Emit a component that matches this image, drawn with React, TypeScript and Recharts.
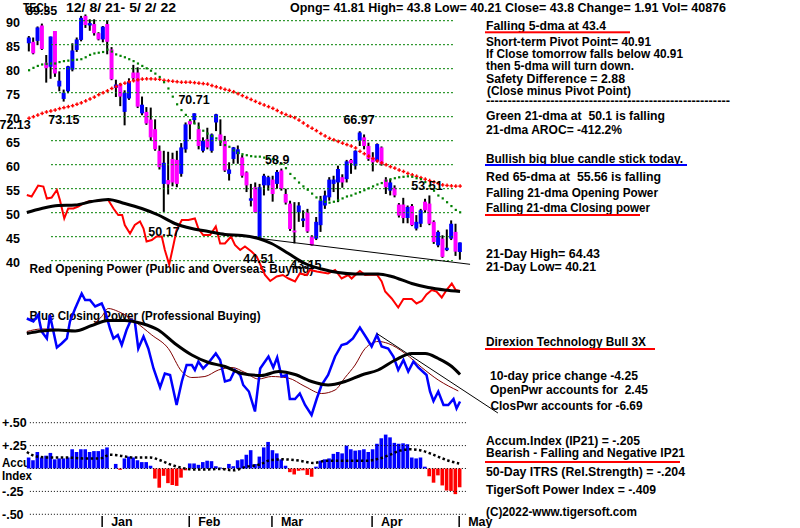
import React from "react";
import {
  ComposedChart,
  Bar,
  Line,
  XAxis,
  YAxis,
  ReferenceLine,
  ReferenceDot,
  Cell,
} from "recharts";

const FONT = "'Liberation Sans', Arial, sans-serif";
const FS = 12.5;

// daily candles, 12/8/21 .. 5/2/22 (100 sessions)
const OPEN = [
  85.3, 85.6, 85.8, 89.0, 81.25, 80.4, 87.85, 76.3, 73.7, 75.3,
  79.8, 83.9, 86.0, 91.0, 89.0, 89.3, 87.4, 86.1, 89.3, 84.0,
  76.0, 76.6, 71.0, 73.8, 79.2, 79.2, 70.7, 71.0, 69.4, 67.4,
  62.9, 56.0, 56.8, 61.2, 61.0, 58.1, 63.2, 69.1, 69.3, 67.4,
  62.9, 65.3, 62.9, 68.8, 66.3, 65.0, 58.1, 61.2, 62.2, 61.5,
  58.4, 52.5, 55.3, 44.6, 55.7, 55.7, 56.9, 56.0, 58.8, 53.9,
  51.9, 46.3, 50.1, 48.3, 50.1, 45.1, 44.6, 47.4, 51.5, 53.2,
  56.0, 56.3, 57.4, 57.0, 61.0, 59.8, 65.0, 65.7, 63.9, 61.5,
  60.8, 63.6, 56.9, 54.6, 55.2, 51.7, 51.7, 48.9, 51.4, 46.7,
  47.7, 52.3, 51.9, 48.1, 43.2, 44.6, 42.2, 44.6, 46.0, 41.81,
];
const HIGH = [
  86.8, 86.5, 88.8, 89.4, 82.85, 86.7, 87.85, 79.45, 75.65, 80.6,
  85.3, 86.5, 91.0, 91.3, 90.3, 90.3, 87.6, 88.9, 90.1, 84.5,
  77.7, 77.0, 75.5, 78.0, 80.8, 80.3, 74.2, 72.0, 71.9, 69.45,
  64.0, 62.9, 62.7, 62.5, 62.9, 64.5, 68.8, 69.3, 70.71, 68.8,
  65.7, 67.7, 66.5, 70.6, 69.45, 66.0, 60.5, 63.7, 64.0, 62.0,
  58.6, 56.0, 56.3, 56.0, 58.1, 57.7, 57.7, 58.9, 59.2, 55.0,
  52.5, 52.2, 52.2, 50.5, 50.8, 45.3, 49.1, 53.5, 54.6, 57.4,
  57.7, 59.8, 58.0, 61.0, 61.2, 63.0, 66.97, 66.3, 64.6, 62.6,
  64.43, 63.8, 57.4, 57.0, 55.7, 52.0, 53.1, 51.5, 51.8, 49.5,
  50.8, 52.9, 53.6, 48.4, 46.3, 45.3, 46.5, 48.4, 47.7, 43.8,
];
const LOW = [
  83.6, 83.0, 84.9, 83.9, 77.1, 77.9, 78.3, 75.3, 73.15, 74.9,
  79.45, 83.5, 85.7, 88.5, 87.9, 86.9, 85.9, 85.5, 83.0, 77.6,
  74.1, 72.2, 68.2, 73.5, 77.6, 71.8, 70.3, 68.3, 65.0, 62.9,
  59.0, 50.17, 53.8, 55.5, 55.3, 57.5, 62.5, 65.3, 68.5, 63.2,
  62.55, 63.2, 62.5, 67.0, 63.9, 58.5, 56.7, 60.2, 60.2, 57.3,
  54.3, 51.3, 50.0, 44.51, 53.6, 54.6, 52.3, 55.0, 54.6, 51.7,
  46.2, 43.6, 48.1, 47.0, 45.8, 43.15, 44.3, 46.0, 50.8, 52.5,
  54.3, 52.2, 55.2, 56.3, 58.1, 59.0, 63.9, 63.2, 60.8, 58.6,
  60.5, 59.8, 53.9, 53.6, 53.2, 49.0, 47.8, 47.8, 47.2, 46.3,
  47.0, 50.0, 47.4, 43.5, 42.8, 40.6, 42.0, 44.3, 41.0, 40.21,
];
const CLOSE = [
  86.5, 83.2, 88.6, 84.1, 80.1, 86.7, 79.0, 77.5, 75.0, 80.5,
  83.8, 86.1, 90.6, 89.1, 89.5, 87.4, 86.1, 88.75, 85.6, 77.8,
  76.7, 74.2, 75.0, 77.3, 78.0, 72.1, 72.5, 68.6, 65.7, 63.2,
  59.5, 60.4, 55.9, 56.3, 56.0, 63.6, 68.4, 68.4, 70.7, 63.9,
  65.0, 63.6, 66.3, 70.5, 65.0, 58.8, 59.0, 63.6, 63.2, 57.7,
  55.7, 53.0, 50.1, 55.3, 57.7, 57.4, 53.9, 58.5, 55.0, 52.1,
  46.6, 45.9, 51.5, 48.8, 46.1, 43.2, 48.1, 52.55, 53.6, 56.9,
  56.9, 59.1, 56.3, 60.7, 60.3, 62.9, 66.7, 63.9, 61.2, 60.5,
  64.3, 60.1, 55.3, 56.3, 53.6, 49.4, 48.9, 51.2, 47.4, 48.1,
  50.5, 50.5, 47.7, 43.9, 46.0, 40.8, 42.7, 47.7, 41.89, 43.8,
];

// green 21-dma and red 65-dma (one dot per session)
const MA21 = [
  79.7, 80.2, 80.6, 80.9, 81.0, 81.1, 81.1, 81.4, 81.6, 81.7,
  81.8, 81.9, 82.0, 82.4, 82.9, 83.2, 83.35, 83.5, 84.0, 83.6,
  83.0, 82.7, 82.4, 82.0, 81.6, 81.1, 80.6, 80.1, 79.6, 79.0,
  78.3, 77.2, 75.9, 74.2, 72.6, 71.4, 70.4, 69.3, 68.6, 67.8,
  67.1, 66.5, 66.0, 65.5, 64.8, 64.1, 63.75, 63.0, 62.5, 62.2,
  62.0, 61.8, 61.7, 61.7, 61.5, 61.4, 61.2, 60.8, 60.2, 59.3,
  58.1, 57.2, 56.3, 55.5, 54.8, 54.0, 53.2, 52.7, 52.3, 52.1,
  52.3, 52.6, 53.0, 53.4, 53.6, 54.0, 54.3, 54.7, 55.1, 55.5,
  55.9, 56.2, 56.7, 57.0, 57.2, 57.4, 57.5, 57.6, 57.5, 57.2,
  57.0, 56.4, 55.6, 54.6, 53.6, 53.0, 52.2, 51.4, 50.6, 50.1,
];
const MA65 = [
  69.7, 70.0, 70.35, 70.7, 71.0, 71.2, 71.4, 71.7, 71.9, 72.1,
  72.3, 72.6, 72.9, 73.3, 73.7, 74.1, 74.6, 75.0, 75.4, 75.9,
  76.3, 76.7, 77.0, 77.3, 77.5, 77.7, 77.85, 77.9, 77.9, 77.85,
  77.8, 77.6, 77.5, 77.4, 77.3, 77.2, 77.2, 77.2, 77.1, 77.0,
  76.9, 76.8, 76.5, 76.25, 76.0, 75.7, 75.5, 75.2, 74.8, 74.4,
  74.0, 73.6, 73.2, 72.8, 72.45, 72.1, 71.75, 71.3, 70.8, 70.45,
  70.1, 69.8, 69.3, 68.7, 68.1, 67.6, 67.1, 66.5, 66.0, 65.5,
  65.2, 64.85, 64.5, 64.2, 63.9, 63.5, 62.8, 62.3, 61.8, 61.3,
  60.8, 60.4, 60.0, 59.6, 59.3, 58.9, 58.6, 58.2, 57.9, 57.6,
  57.3, 57.0, 56.7, 56.4, 56.1, 55.8, 55.7, 55.6, 55.55, 55.56,
];

// accumulation index (IP21)
const ACCUM = [
  0.12, 0.09, 0.18, 0.12, 0.14, 0.17, 0.1, 0.11, 0.11, 0.12,
  0.21, 0.18, 0.21, 0.21, 0.18, 0.19, 0.19, 0.21, 0.23, 0,
  0.05, -0.015, 0.11, 0.13, 0.12, 0.09, 0.07, 0.07, 0.03, -0.11,
  -0.21, -0.08, -0.16, -0.18, -0.19, -0.1, -0.02, 0.055, 0.055, 0.04,
  0.07, 0.085, 0.08, 0.025, 0.01, -0.01, 0.05, 0.025, 0.09, 0.1,
  0.15, 0.2, 0.05, 0.13, 0.23, 0.29, 0.2, 0.165, 0.1, 0.03,
  -0.04, -0.065, -0.025, -0.02, -0.07, -0.09, 0.02, 0.085, 0.1, 0.11,
  0.16, 0.18, 0.165, 0.25, 0.21, 0.195, 0.2, 0.21, 0.18, 0.21,
  0.27, 0.33, 0.37, 0.34, 0.28, 0.27, 0.275, 0.265, 0.12, 0.11,
  0.12, 0.02, -0.085, -0.155, -0.075, -0.185, -0.24, -0.245, -0.28, -0.205,
];

// [session index, value] readings of the power lines
const OP_LINE = [
  [-0.5, 13.0], [0.6, 12.7], [2.1, 14.9], [3.3, 14.7], [4.1, 12.3], [5.2, 12.5], [6.4, 14.0],
  [7.1, 12.0], [8.1, 8.3], [9.0, 10.3], [10.2, 10.3], [11.3, 10.7], [12.5, 11.3], [14.0, 11.8],
  [15.2, 11.8], [17.1, 12.0], [18.2, 12.0], [19.4, 10.3], [20.5, 9.0], [21.4, 9.0], [22.0, 7.0],
  [23.2, 5.3], [24.3, 7.0], [25.5, 7.7], [26.3, 6.3], [27.0, 3.7], [28.2, 4.0], [29.3, 4.7],
  [30.5, 4.7], [31.2, 2.0], [32.2, -0.9], [33.1, 2.7], [33.9, 6.0], [35.1, 8.0], [36.6, 8.0],
  [38.1, 8.3], [38.9, 6.3], [40.0, 5.0], [41.6, 5.0], [42.9, 6.7], [43.9, 3.3], [45.0, 3.3],
  [46.4, 4.7], [47.3, 3.0], [48.5, 2.0], [49.6, 2.7], [51.1, 1.7], [52.3, 0.7], [54.2, -3.0],
  [55.4, -4.2], [56.9, -3.3], [58.3, -3.0], [59.6, -3.7], [61.1, -4.3], [62.2, -2.7], [63.8, -3.0],
  [64.5, -2.0], [66.1, -2.3], [68.7, -2.7], [70.3, -2.0], [71.8, -3.7], [73.3, -3.0], [74.1, -3.7],
  [75.3, -2.7], [76.0, -2.2], [77.2, -3.0], [79.9, -2.9], [81.0, -4.3], [81.8, -6.3], [83.3, -7.7],
  [84.8, -9.5], [86.0, -7.8], [87.9, -7.8], [89.0, -8.7], [90.2, -8.2], [91.3, -6.9], [92.5, -6.0],
  [93.6, -6.3], [94.8, -7.5], [95.9, -6.0], [97.1, -4.7], [98.0, -6.0], [99.0, -6.2],
];
const OP_MA = [
  [-0.5, 9.5], [2.9, 10.3], [6.7, 10.9], [10.6, 11.0], [14.4, 11.7], [18.2, 12.1], [22.0, 11.3],
  [25.9, 10.3], [29.7, 9.0], [33.5, 7.3], [37.4, 6.3], [41.2, 5.7], [45.0, 5.1], [48.9, 4.9],
  [52.7, 4.3], [55.7, 3.3], [59.6, 1.3], [63.4, -0.7], [67.2, -1.8], [71.0, -2.5], [74.9, -2.8],
  [80.2, -2.8], [83.3, -3.3], [87.9, -4.7], [91.7, -5.5], [95.5, -6.0], [99.0, -6.3],
];
const CP_LINE = [
  [-0.5, 8.3], [1.0, 7.7], [2.1, 9.0], [2.9, 5.7], [4.1, 4.3], [4.8, 9.0], [6.4, 2.5], [7.5, 3.3],
  [8.7, 4.3], [9.4, 7.7], [10.6, 10.3], [12.1, 13.3], [12.9, 12.0], [14.0, 12.0], [15.2, 10.7],
  [16.7, 11.3], [17.5, 9.7], [18.6, 6.3], [19.4, 4.3], [20.4, 5.0], [21.3, 3.0], [22.4, 6.0],
  [23.4, 8.0], [24.3, 7.7], [25.1, 2.3], [26.3, 4.7], [27.4, 2.3], [28.6, -1.7], [30.1, -5.5],
  [31.2, -2.7], [32.4, -3.0], [33.9, -9.0], [35.1, -4.3], [36.2, -1.0], [37.4, -1.0], [38.1, -2.0],
  [38.9, -0.3], [40.0, -1.7], [40.8, -1.0], [42.0, 0.3], [42.9, 1.3], [43.9, 0.0], [45.0, -4.3],
  [46.2, -4.0], [47.3, -2.0], [48.5, -3.0], [49.2, -5.0], [50.5, -6.3], [51.9, -10.3], [53.1, -1.7],
  [55.0, 0.7], [56.1, -1.5], [57.0, 0.5], [58.0, -3.3], [59.2, -3.0], [59.9, -7.8], [61.1, -7.8],
  [62.2, -6.7], [63.4, -9.0], [64.9, -11.0], [66.1, -7.7], [67.2, -5.0], [68.7, -3.0], [70.3, 0.7],
  [71.8, 3.0], [73.0, 3.3], [74.4, 4.3], [76.0, 6.5], [77.6, 4.3], [78.7, 2.7], [79.9, 5.0],
  [81.0, 2.7], [82.5, 2.3], [83.7, 0.7], [84.8, -2.0], [86.0, 0.0], [87.1, -2.3], [88.3, -0.3],
  [89.4, -1.5], [91.3, -3.0], [92.1, -6.3], [92.9, -8.2], [94.0, -6.3], [95.2, -9.0], [96.3, -9.0],
  [97.5, -7.8], [98.2, -9.7], [99.0, -8.3],
];
const CP_MA = [
  [-0.5, 5.3], [2.9, 5.8], [6.7, 6.0], [10.6, 5.8], [14.4, 6.9], [18.2, 7.9], [22.0, 7.9],
  [25.9, 7.3], [29.7, 6.0], [33.5, 3.3], [37.4, 1.0], [41.2, -0.5], [45.0, -1.3], [48.9, -2.7],
  [53.4, -3.1], [57.3, -2.3], [61.1, -2.9], [64.9, -4.3], [68.7, -5.0], [72.6, -4.3], [76.4, -3.0],
  [80.2, -2.0], [84.1, 0.0], [87.9, 1.3], [91.0, 1.3], [94.0, 0.3], [97.1, -1.3], [99.0, -2.9],
];
const CP_MA2 = [
  [-0.5, 5.7], [2.9, 6.2], [5.2, 6.2], [9.0, 5.8], [12.9, 6.3], [16.7, 8.7], [18.2, 10.3],
  [20.5, 9.7], [24.3, 7.7], [28.2, 5.0], [32.0, 2.3], [35.1, -2.3], [37.4, -3.5], [40.4, -3.3],
  [43.5, -2.0], [46.6, -1.5], [49.6, -2.5], [52.7, -3.8], [55.7, -3.3], [59.5, -3.6], [63.4, -5.3],
  [67.2, -6.7], [70.3, -6.0], [72.6, -3.5], [74.9, -1.0], [77.2, 2.3], [80.2, 3.7], [82.5, 3.3],
  [86.4, 1.3], [90.2, -1.5], [94.0, -4.0], [98.6, -6.2],
];
const ACC_MA = [
  [-0.5, 0.18], [1.8, 0.13], [4.8, 0.12], [8.7, 0.12], [12.5, 0.11], [16.3, 0.11], [18.6, 0.15],
  [20.9, 0.14], [24.0, 0.12], [27.8, 0.12], [30.1, 0.09], [32.4, 0.045], [35.1, 0.007],
  [37.7, -0.01], [40.8, -0.01], [43.9, -0.005], [46.9, -0.02], [50.0, 0.02], [53.1, 0.045],
  [55.3, 0.09], [58.4, 0.1], [62.2, 0.085], [65.3, 0.06], [68.4, 0.085], [71.4, 0.085],
  [74.5, 0.085], [77.6, 0.085], [80.6, 0.11], [82.9, 0.15], [85.2, 0.195], [87.5, 0.21],
  [89.8, 0.2], [92.1, 0.165], [94.4, 0.12], [96.7, 0.08], [98.8, 0.055],
];

// thin trend lines [session, value]
const PRICE_TREND = [[52.7, 44.67], [101.3, 39.25]];
const CP_TREND = [[79.9, 5.3], [107.7, -10.6]];

const PRICE_TICKS = [90, 85, 80, 75, 70, 65, 60, 55, 50, 45, 40];
const ACC_TICKS = [0.5, 0.25, -0.25, -0.5];
const ACC_GRID = [0.5, 0.25, 0, -0.25, -0.5];
const MONTHS = ["Jan", "Feb", "Mar", "Apr", "May"];
const MONTH_START = [17, 37, 56, 79, 99];
const MONTH_TICKS = MONTH_START.map((m) => m - 0.2);

const NOTES = [
  { i: 2.9, p: 92.2, t: "89.35" },
  { i: 8.0, p: 69.3, t: "73.15" },
  { i: -3.2, p: 68.3, t: "72.13" },
  { i: 37.9, p: 73.5, t: "70.71" },
  { i: 75.8, p: 69.3, t: "66.97" },
  { i: 57.0, p: 61.0, t: "58.9" },
  { i: 31.0, p: 46.0, t: "50.17" },
  { i: 52.8, p: 40.35, t: "44.51" },
  { i: 63.6, p: 39.1, t: "43.15" },
  { i: 91.4, p: 55.7, t: "53.51" },
];

const X_DOMAIN = [-6.6605, 177.079];
const P_DOMAIN = [-12.979, 94.3125];
const A_DOMAIN = [-0.5077, 5.1146];
const OP_DOMAIN = [-51, 52];
const CP_DOMAIN = [-31, 72];

const BLUE = "#0000ff";
const MAGENTA = "#ff00ff";
const RED = "#ff0000";
const GREEN = "#008000";

const TEXTS = [
  { x: 23, y: 11.5, t: "TECL", w: 27 },
  { x: 66, y: 11.5, t: "12/ 8/ 21- 5/ 2/ 22", w: 110 },
  { x: 290, y: 11.5, t: "Opng= 41.81 High= 43.8 Low= 40.21 Close= 43.8 Change= 1.91 Vol= 40876", w: 436 },
  { x: 486, y: 29.5, t: "Falling 5-dma at 43.4", w: 120 },
  { x: 486, y: 45.5, t: "Short-term Pivot Point= 40.91", w: 165 },
  { x: 486, y: 57.5, t: "If Close tomorrow falls below 40.91", w: 197 },
  { x: 486, y: 69.5, t: "then 5-dma will turn down.", w: 148 },
  { x: 486, y: 82.5, t: "Safety Difference = 2.88", w: 139 },
  { x: 487, y: 94.5, t: "(Close minus Pivot Point)", w: 144 },
  { x: 486, y: 105, t: "-".repeat(57), w: 244 },
  { x: 486, y: 119.5, t: "Green 21-dma at  50.1 is falling", w: 179 },
  { x: 486, y: 133.5, t: "21-dma AROC= -412.2%", w: 136 },
  { x: 486, y: 162.5, t: "Bullish big blue candle stick today.", w: 197 },
  { x: 486, y: 180.5, t: "Red 65-dma at  55.56 is falling", w: 175 },
  { x: 486, y: 196.5, t: "Falling 21-dma Opening Power", w: 172 },
  { x: 486, y: 211.5, t: "Falling 21-dma Closing power", w: 164 },
  { x: 486, y: 257.5, t: "21-Day High= 64.43", w: 114 },
  { x: 486, y: 270.5, t: "21-Day Low= 40.21", w: 110 },
  { x: 486, y: 346, t: "Direxion Technology Bull 3X", w: 160 },
  { x: 490, y: 379.5, t: "10-day price change -4.25", w: 148 },
  { x: 490, y: 393.5, t: "OpenPwr accounts for  2.45", w: 158 },
  { x: 490.5, y: 410, t: "ClosPwr accounts for -6.69", w: 152 },
  { x: 486, y: 445, t: "Accum.Index (IP21) = -.205", w: 154 },
  { x: 486, y: 457, t: "Bearish - Falling and Negative IP21", w: 199 },
  { x: 486, y: 476, t: "50-Day ITRS (Rel.Strength) = -.204", w: 199 },
  { x: 486, y: 494, t: "TigerSoft Power Index = -.409", w: 170 },
  { x: 486, y: 515.5, t: "(C)2022-www.tigersoft.com", w: 151 },
  { x: 29.5, y: 272.5, t: "Red Opening Power (Public and Overseas Buying)", w: 284 },
  { x: 29.5, y: 319.5, t: "Blue Closing Power (Professional Buying)", w: 231 },
  { x: 2, y: 467, t: "Accu", w: 28 },
  { x: 2, y: 479.5, t: "Index", w: 30 },
];

const UNDERLINES = [
  { x1: 485, x2: 630, y: 32.3, c: RED },
  { x1: 485, x2: 687, y: 165, c: BLUE },
  { x1: 485, x2: 640, y: 215, c: RED },
  { x1: 485, x2: 655, y: 349, c: RED },
  { x1: 485, x2: 680, y: 462, c: RED },
];

const pts = (arr: number[][]) => arr.map(([i, v]) => ({ i, v }));

function Candle(props: any) {
  const { x, y, width, height, payload } = props;
  const top = Math.min(y, y + height);
  const span = Math.abs(height);
  const { o, h, l, c } = payload;
  const k = span / (h - l || 1);
  const yo = top + (h - o) * k;
  const yc = top + (h - c) * k;
  const cx = x + width / 2;
  const up = c >= o;
  return (
    <g>
      <rect x={cx - 1} y={top} width={2} height={Math.max(span, 1)} fill="#000" />
      <rect
        x={cx - 2}
        y={Math.min(yo, yc)}
        width={4}
        height={Math.max(Math.abs(yc - yo), 1.5)}
        fill={up ? BLUE : MAGENTA}
      />
    </g>
  );
}

function GreenDot(props: any) {
  const { cx, cy, index } = props;
  if (cx == null || cy == null) return <g key={`g${index}`} />;
  return <rect key={`g${index}`} x={cx - 1} y={cy - 1} width={2.2} height={2.2} fill={GREEN} />;
}

function RedCross(props: any) {
  const { cx, cy, index } = props;
  if (cx == null || cy == null) return <g key={`r${index}`} />;
  return (
    <g key={`r${index}`}>
      <rect x={cx - 1.8} y={cy - 0.6} width={3.6} height={1.4} fill={RED} />
      <rect x={cx - 0.6} y={cy - 1.8} width={1.4} height={3.6} fill={RED} />
    </g>
  );
}

function PriceTick(props: any) {
  const { y, payload } = props;
  return (
    <text x={6} y={y + 6} fontFamily={FONT} fontSize={FS} fontWeight={700} fill="#000">
      {payload.value}
    </text>
  );
}

function AccTick(props: any) {
  const { y, payload } = props;
  const v = payload.value as number;
  const s = (v > 0 ? "+" : "-") + Math.abs(v).toFixed(2).slice(1);
  return (
    <text x={2} y={y + 4.5} fontFamily={FONT} fontSize={FS} fontWeight={700} fill="#000">
      {s}
    </text>
  );
}

function MonthTick(props: any) {
  const { x, payload } = props;
  const k = MONTH_TICKS.indexOf(payload.value);
  return (
    <g>
      <rect x={x - 0.75} y={516} width={1.5} height={11} fill="#000" />
      <text x={x + 9} y={525.5} fontFamily={FONT} fontSize={FS} fontWeight={700} fill="#000">
        {MONTHS[k]}
      </text>
    </g>
  );
}

export default function App() {
  const rows = OPEN.map((o, i) => ({
    i,
    o,
    h: HIGH[i],
    l: LOW[i],
    c: CLOSE[i],
    ma21: MA21[i],
    ma65: MA65[i],
    acc: ACCUM[i],
  }));

  return (
    <div
      style={{
        position: "fixed",
        left: 0,
        top: 0,
        width: 800,
        height: 528,
        background: "#fff",
        overflow: "hidden",
      }}
    >
      <svg width={800} height={528} style={{ position: "absolute", left: 0, top: 0 }}>
        {TEXTS.map((d, k) => (
          <text
            key={k}
            x={d.x}
            y={d.y}
            textLength={d.w}
            lengthAdjust="spacingAndGlyphs"
            fontFamily={FONT}
            fontSize={FS}
            fontWeight={700}
            fill="#000"
            style={{ whiteSpace: "pre" }}
          >
            {d.t}
          </text>
        ))}
        {UNDERLINES.map((u, k) => (
          <rect key={k} x={u.x1} y={u.y - 1} width={u.x2 - u.x1} height={2} fill={u.c} />
        ))}
      </svg>
      <div style={{ position: "absolute", left: 0, top: 0 }}>
        <ComposedChart
          width={800}
          height={528}
          data={rows}
          margin={{ top: 0, right: 0, bottom: 0, left: 0 }}
        >
          <XAxis
            xAxisId="m"
            type="number"
            dataKey="i"
            domain={X_DOMAIN}
            allowDataOverflow
            height={13}
            axisLine={false}
            tickLine={false}
            ticks={MONTH_TICKS}
            interval={0}
            tick={<MonthTick />}
          />
          <XAxis xAxisId="c" type="number" dataKey="i" domain={X_DOMAIN} allowDataOverflow hide />
          <XAxis xAxisId="h" type="number" dataKey="i" domain={X_DOMAIN} allowDataOverflow hide />
          <YAxis
            yAxisId="p"
            type="number"
            domain={P_DOMAIN}
            allowDataOverflow
            mirror
            axisLine={false}
            tickLine={false}
            ticks={PRICE_TICKS}
            interval={0}
            tick={<PriceTick />}
          />
          <YAxis
            yAxisId="a"
            type="number"
            domain={A_DOMAIN}
            allowDataOverflow
            mirror
            axisLine={false}
            tickLine={false}
            ticks={ACC_TICKS}
            interval={0}
            tick={<AccTick />}
          />
          <YAxis yAxisId="op" type="number" domain={OP_DOMAIN} allowDataOverflow hide />
          <YAxis yAxisId="cp" type="number" domain={CP_DOMAIN} allowDataOverflow hide />

          {PRICE_TICKS.map((p) => (
            <ReferenceLine
              key={`pg${p}`}
              xAxisId="m"
              yAxisId="p"
              segment={[{ x: 5.05, y: p }, { x: 97.4, y: p }]}
              stroke={GREEN}
              strokeDasharray="2 2"
            />
          ))}
          {ACC_GRID.map((a) => (
            <ReferenceLine
              key={`ag${a}`}
              xAxisId="m"
              yAxisId="a"
              segment={[{ x: 0.2, y: a }, { x: 100.8, y: a }]}
              stroke="#000"
              strokeDasharray="1 2"
            />
          ))}

          <Bar
            xAxisId="h"
            yAxisId="a"
            dataKey="acc"
            barSize={3.6}
            isAnimationActive={false}
          >
            {rows.map((r) => (
              <Cell key={r.i} fill={r.acc >= 0 ? BLUE : RED} />
            ))}
          </Bar>
          <Line
            xAxisId="m"
            yAxisId="a"
            data={pts(ACC_MA)}
            dataKey="v"
            type="monotone"
            stroke="#000"
            strokeWidth={2.5}
            strokeDasharray="2.5 2.5"
            dot={false}
            activeDot={false}
            isAnimationActive={false}
          />

          <Line
            xAxisId="m"
            yAxisId="op"
            data={pts(OP_LINE)}
            dataKey="v"
            type="linear"
            stroke={RED}
            strokeWidth={2}
            dot={false}
            activeDot={false}
            isAnimationActive={false}
          />
          <Line
            xAxisId="m"
            yAxisId="op"
            data={pts(OP_MA)}
            dataKey="v"
            type="monotone"
            stroke="#000"
            strokeWidth={3}
            dot={false}
            activeDot={false}
            isAnimationActive={false}
          />
          <Line
            xAxisId="m"
            yAxisId="cp"
            data={pts(CP_MA2)}
            dataKey="v"
            type="monotone"
            stroke="#800000"
            strokeWidth={1}
            dot={false}
            activeDot={false}
            isAnimationActive={false}
          />
          <Line
            xAxisId="m"
            yAxisId="cp"
            data={pts(CP_LINE)}
            dataKey="v"
            type="linear"
            stroke={BLUE}
            strokeWidth={2.5}
            dot={false}
            activeDot={false}
            isAnimationActive={false}
          />
          <Line
            xAxisId="m"
            yAxisId="cp"
            data={pts(CP_MA)}
            dataKey="v"
            type="monotone"
            stroke="#000"
            strokeWidth={3}
            dot={false}
            activeDot={false}
            isAnimationActive={false}
          />
          <ReferenceLine
            xAxisId="m"
            yAxisId="cp"
            segment={CP_TREND.map(([x, y]) => ({ x, y }))}
            stroke="#000"
            strokeWidth={1}
          />
          <ReferenceLine
            xAxisId="m"
            yAxisId="p"
            segment={PRICE_TREND.map(([x, y]) => ({ x, y }))}
            stroke="#000"
            strokeWidth={1}
          />

          <Line
            xAxisId="m"
            yAxisId="p"
            dataKey="ma65"
            stroke="none"
            dot={RedCross}
            activeDot={false}
            isAnimationActive={false}
          />
          <Line
            xAxisId="m"
            yAxisId="p"
            dataKey="ma21"
            stroke="none"
            dot={GreenDot}
            activeDot={false}
            isAnimationActive={false}
          />
          <Bar
            xAxisId="c"
            yAxisId="p"
            dataKey={(d: any) => [d.l, d.h]}
            barSize={4}
            shape={<Candle />}
            isAnimationActive={false}
          />

          {NOTES.map((n) => (
            <ReferenceDot
              key={n.t}
              xAxisId="m"
              yAxisId="p"
              x={n.i}
              y={n.p}
              r={1}
              fill="none"
              stroke="none"
              label={{
                value: n.t,
                position: "center",
                fill: "#000",
                fontSize: FS,
                fontWeight: 700,
                fontFamily: FONT,
              }}
            />
          ))}
        </ComposedChart>
      </div>
    </div>
  );
}
